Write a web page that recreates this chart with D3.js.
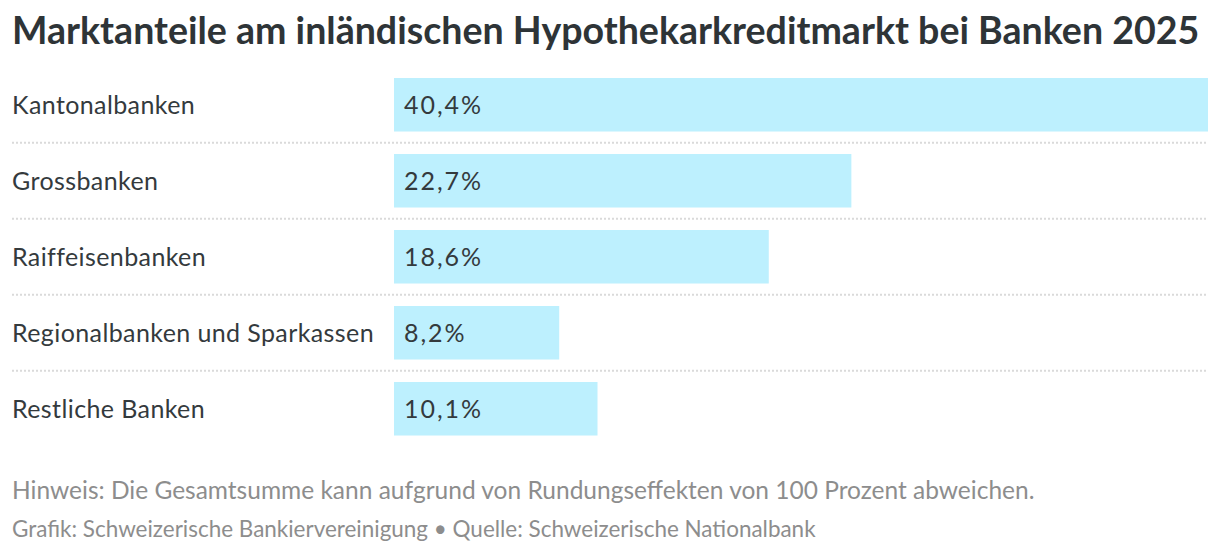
<!DOCTYPE html>
<html>
<head>
<meta charset="utf-8">
<script src="https://cdn.jsdelivr.net/npm/d3@7"></script>
<style>
  html, body { margin: 0; padding: 0; background: #fff; }
  svg { display: block; font-family: Lato, "Open Sans", sans-serif; }
</style>
</head>
<body>
<svg id="chart" width="1220" height="556"></svg>
<script>
// data
var categories = ["Kantonalbanken", "Grossbanken", "Raiffeisenbanken",
                  "Regionalbanken und Sparkassen", "Restliche Banken"];
var shares = [40.4, 22.7, 18.6, 8.2, 10.1];
var valueLabels = ["40,4%", "22,7%", "18,6%", "8,2%", "10,1%"];

var titleText = "Marktanteile am inländischen Hypothekarkreditmarkt bei Banken 2025";
var noteText = "Hinweis: Die Gesamtsumme kann aufgrund von Rundungseffekten von 100 Prozent abweichen.";
var sourceText = "Grafik: Schweizerische Bankiervereinigung \u2022 Quelle: Schweizerische Nationalbank";

var svg = d3.select("#chart");
var left = 12, right = 1208, barStart = 394;

var x = d3.scaleLinear().domain([0, d3.max(shares)]).range([barStart, right]);
var y = d3.scaleBand().domain(categories).range([66.75, 446.75])
    .paddingInner(0.296).paddingOuter(0.148);

// helper: shrink/grow a text to a given width
function fitWidth(sel, w){
    var len = sel.node().getComputedTextLength();
    var fs = parseFloat(sel.attr("font-size"));
    sel.attr("font-size", fs * w / len);
}
// letter-spacing so that one text node gets a given width
function spacingFor(node, w){
    var len = node.getComputedTextLength();
    return (w - len) / node.textContent.length;
}

// title
var title = svg.append("text")
    .attr("x", left).attr("y", 44)
    .attr("font-size", 34).attr("font-weight", 700)
    .attr("fill", "#2e3437")
    .text(titleText);
fitWidth(title, 1188);

// separators (dotted) between rows
var sepY = categories.slice(1).map(function(c){ return y(c) - y.step() * y.paddingInner() / 2; });
svg.selectAll("line.sep").data(sepY).enter().append("line")
    .attr("class", "sep")
    .attr("x1", left).attr("x2", right)
    .attr("y1", function(d){ return d; }).attr("y2", function(d){ return d; })
    .attr("stroke", "#dadada").attr("stroke-width", 2)
    .attr("stroke-dasharray", "2,2");

var rows = svg.selectAll("g.row").data(categories).enter().append("g")
    .attr("class", "row");

rows.append("rect")
    .attr("x", x(0))
    .attr("y", function(d){ return y(d); })
    .attr("width", function(d, i){ return x(shares[i]) - x(0); })
    .attr("height", y.bandwidth())
    .attr("fill", "#bdf0fe");

var catLabels = rows.append("text")
    .attr("class", "cat")
    .attr("x", left)
    .attr("y", function(d){ return y(d) + y.bandwidth() / 2; })
    .attr("dy", "0.35em")
    .attr("font-size", 25).attr("fill", "#343a3d")
    .text(function(d){ return d; });
// the reference face runs a little wider than Lato
var ls = spacingFor(catLabels.nodes()[3], 362);
catLabels.attr("letter-spacing", ls);

var valLabels = rows.append("text")
    .attr("x", x(0) + 10)
    .attr("y", function(d){ return y(d) + y.bandwidth() / 2; })
    .attr("dy", "0.35em")
    .attr("font-size", 25).attr("fill", "#343a3d")
    .text(function(d, i){ return valueLabels[i]; });
var vs = spacingFor(valLabels.nodes()[0], 79);
valLabels.attr("letter-spacing", vs);

// footnotes
var note = svg.append("text")
    .attr("x", left).attr("y", 499)
    .attr("font-size", 21).attr("fill", "#8d8d8d")
    .text(noteText);
fitWidth(note, 1023);

var src = svg.append("text")
    .attr("x", left).attr("y", 537)
    .attr("font-size", 19).attr("fill", "#8d8d8d")
    .text(sourceText);
fitWidth(src, 804);
</script>
</body>
</html>
